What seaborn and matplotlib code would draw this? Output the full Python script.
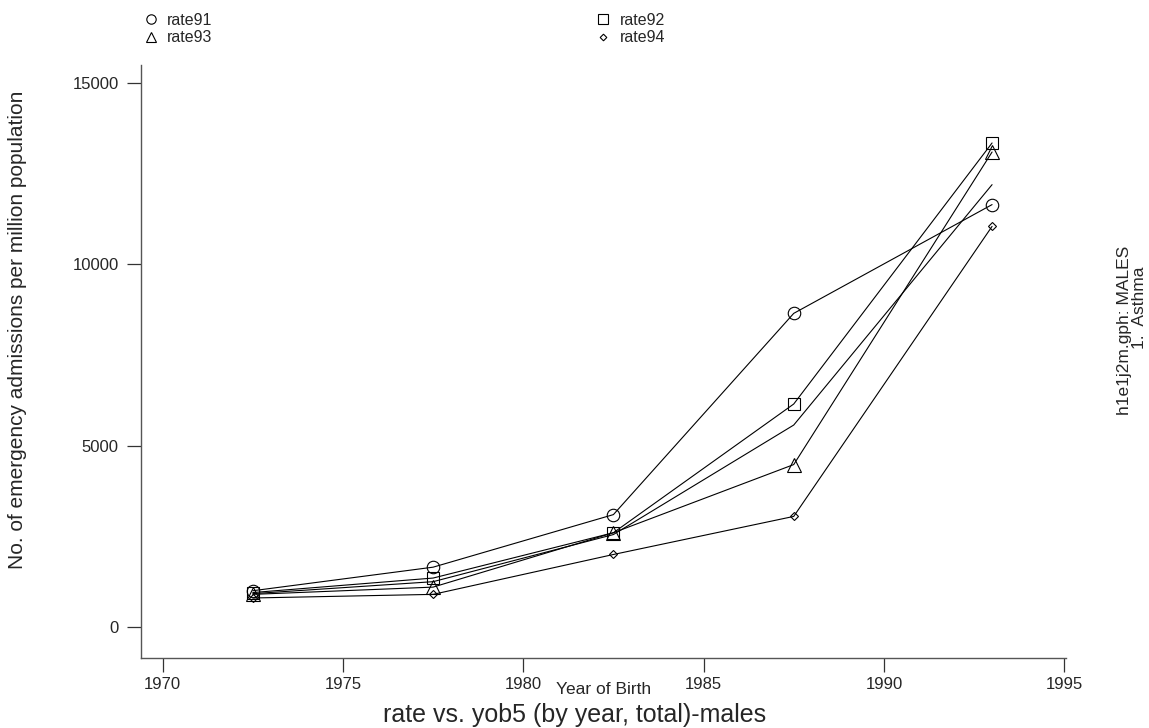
import pandas as pd
import matplotlib
matplotlib.use("Agg")
import matplotlib.pyplot as plt
import seaborn as sns

# Year of birth (5-year groups, mid points)
yob5 = [1972.5, 1977.5, 1982.5, 1987.5, 1993]

# Emergency admissions per million population, males
rate91 = [1000, 1650, 3100, 8650, 11650]
rate92 = [950, 1350, 2600, 6150, 13350]
rate93 = [900, 1100, 2600, 4480, 13100]
rate94 = [800, 900, 2000, 3050, 11050]
total = [920, 1250, 2550, 5570, 12200]

series_names = ["rate91", "rate92", "rate93", "rate94", "total"]
series_values = [rate91, rate92, rate93, rate94, total]

df = pd.DataFrame({
    "yob5": yob5 * len(series_names),
    "rate": sum(series_values, []),
    "series": [n for n in series_names for _ in yob5],
})

sns.set_style("white")
plt.rcParams["font.family"] = ["Liberation Sans", "DejaVu Sans"]

fig = plt.figure(figsize=(11.49, 7.28), dpi=100)
ax = fig.add_axes([141 / 1149, 1 - 658 / 728, (1066 - 141) / 1149, (658 - 65) / 728])

markers = {"rate91": "o", "rate92": "s", "rate93": "^", "rate94": "D", "total": ""}
sizes = {"rate91": 9, "rate92": 9, "rate93": 10, "rate94": 4.5, "total": 0}

handles = {}
for name in series_names:
    sub = df[df["series"] == name]
    sns.lineplot(data=sub, x="yob5", y="rate", ax=ax, color="black", lw=0.8,
                 marker=markers[name] if markers[name] else None,
                 markersize=sizes[name], markerfacecolor="none",
                 markeredgecolor="black", markeredgewidth=0.8,
                 legend=False, estimator=None)
    handles[name] = ax.lines[-1]

ax.set_xlim(1969.4, 1995.05)
ax.set_ylim(-855, 15500)
ax.set_xticks([1970, 1975, 1980, 1985, 1990, 1995])
ax.set_yticks([0, 5000, 10000, 15000])

for s in ["top", "right"]:
    ax.spines[s].set_visible(False)
for s in ["left", "bottom"]:
    ax.spines[s].set_color("#555555")
    ax.spines[s].set_linewidth(1.0)
ax.tick_params(axis="both", direction="out", length=10, width=0.9,
               color="#333333", labelsize=12, left=True, bottom=True)
ax.tick_params(axis="x", pad=4)
ax.tick_params(axis="y", pad=6)

ax.set_xlabel("")
ax.set_ylabel("")

fig.text(556 / 1149, 1 - 690 / 728, "Year of Birth", ha="left", va="center", fontsize=12.5)
fig.text(575 / 1149, 1 - 715 / 728, "rate vs. yob5 (by year, total)-males",
         ha="center", va="center", fontsize=18)
fig.text(18 / 1149, 1 - 330 / 728, "No. of emergency admissions per million population",
         rotation=90, ha="center", va="center", fontsize=15)
fig.text(1124 / 1149, 1 - 330 / 728, "h1e1j2m.gph: MALES", rotation=90,
         ha="center", va="center", fontsize=12.5)
fig.text(1140 / 1149, 1 - 308 / 728, "1.  Asthma", rotation=90,
         ha="center", va="center", fontsize=12.5)

order = ["rate91", "rate93", "rate92", "rate94"]
fig.legend([handles[n] for n in order], order, ncol=2, loc="upper left",
           bbox_to_anchor=(138 / 1149, 1.0), frameon=False, fontsize=11.5,
           handlelength=0.0, handletextpad=1.0, columnspacing=24.5,
           labelspacing=0.15, borderpad=0.3, markerscale=0.75)

fig.savefig("out.png", dpi=100)
